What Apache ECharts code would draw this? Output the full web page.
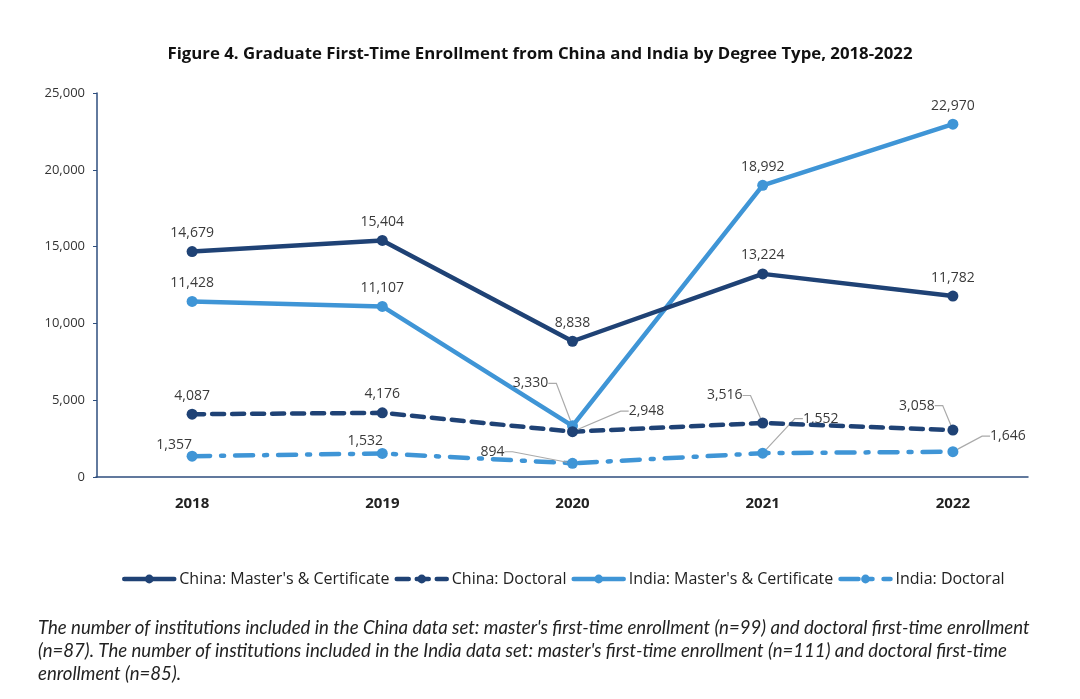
<!DOCTYPE html>
<html><head><meta charset="utf-8">
<script src="https://cdn.jsdelivr.net/npm/echarts@6/dist/echarts.min.js"></script>
<style>html,body{margin:0;padding:0;background:#fff}#c{width:1080px;height:699px}</style>
</head><body><div id="c"></div>
<script>
const years = ['2018','2019','2020','2021','2022'];
const chinaMasters = [14679, 15404, 8838, 13224, 11782];
const chinaDoctoral = [4087, 4176, 2948, 3516, 3058];
const indiaMasters = [11428, 11107, 3330, 18992, 22970];
const indiaDoctoral = [1357, 1532, 894, 1552, 1646];
const seriesNames = ["China: Master's & Certificate", "China: Doctoral", "India: Master's & Certificate", "India: Doctoral"];
const titleText = 'Figure 4. Graduate First-Time Enrollment from China and India by Degree Type, 2018-2022';
const noteLines = [
  "The number of institutions included in the China data set: master's first-time enrollment (n=99) and doctoral first-time enrollment",
  "(n=87). The number of institutions included in the India data set: master's first-time enrollment (n=111) and doctoral first-time",
  "enrollment (n=85)."
];

const navy = '#1F4275';
const blue = '#3F95D6';
// label nudges [seriesIndex][dataIndex] = [dx, dy, leader]
const nudges = {
  '2-2': [-42, -24, true],
  '1-2': [74, -2, true],
  '1-3': [-38, -9, true],
  '1-4': [-36, -6, true],
  '3-0': [-18, 7, false],
  '3-1': [-17, 6, false],
  '3-2': [-80, 7, true],
  '3-3': [58, -16, true],
  '3-4': [55, 3, true]
};
const fmt = v => v.toLocaleString('en-US');
function mk(name, vals, color, type, si) {
  return {
    name, type: 'line', data: vals.map((v, i) => {
      const n = nudges[si + '-' + i];
      return { value: v, labelLine: { show: !!(n && n[2]) } };
    }),
    symbol: 'circle', symbolSize: 11,
    itemStyle: { color },
    lineStyle: { color, width: 4.5, type, cap: 'round' },
    label: { show: true, position: 'top', distance: 6, formatter: p => fmt(p.value),
      color: '#3a3a3a', fontSize: 14, fontFamily: 'Open Sans' },
    labelLine: { show: true, lineStyle: { color: '#aaaaaa', width: 1.2 }, length2: 8 },
    labelLayout: p => {
      const n = nudges[si + '-' + p.dataIndex];
      return n ? { dx: n[0], dy: n[1] } : {};
    },
    z: 10 - si
  };
}
const chart = echarts.init(document.getElementById('c'));
chart.setOption({
  animation: false,
  title: { text: titleText, left: 'center', top: 41,
    textStyle: { fontFamily: 'Open Sans', fontWeight: 'bold', fontSize: 16.8, color: '#111' } },
  grid: [
    { left: 97, right: 32, top: 93, bottom: 222 },
    { left: 96, right: 52, top: 93, bottom: 222 }
  ],
  xAxis: [
    { type: 'category', data: years, gridIndex: 0,
      axisLine: { show: false }, axisTick: { show: false },
      axisLabel: { margin: 19, fontFamily: 'Open Sans', fontWeight: 'bold', fontSize: 15, color: '#222' } },
    { type: 'value', gridIndex: 1, min: 0, max: 1, show: true,
      axisLine: { show: true, onZero: false, lineStyle: { color: '#2E4E7E', width: 1.5 } },
      axisTick: { show: false }, axisLabel: { show: false }, splitLine: { show: false } }
  ],
  yAxis: [
    { type: 'value', gridIndex: 0, min: 0, max: 25000, interval: 5000,
      axisLine: { show: true, lineStyle: { color: '#2E4E7E', width: 1.5 } },
      axisTick: { show: true, length: 4, lineStyle: { color: '#2E4E7E' } },
      splitLine: { show: false },
      axisLabel: { formatter: v => fmt(v), margin: 12, fontFamily: 'Open Sans', fontSize: 13, color: '#333' } },
    { type: 'value', gridIndex: 1, min: 0, max: 1, show: false }
  ],
  legend: { bottom: 107, left: 117, itemWidth: 50, itemHeight: 11, itemGap: 5,
    lineStyle: { width: 4.5 },
    textStyle: { fontFamily: 'Open Sans', fontSize: 16, color: '#222' }, data: seriesNames },
  series: [
    mk(seriesNames[0], chinaMasters, navy, 'solid', 0),
    mk(seriesNames[1], chinaDoctoral, navy, [12, 8], 1),
    mk(seriesNames[2], indiaMasters, blue, 'solid', 2),
    mk(seriesNames[3], indiaDoctoral, blue, [18, 11, 3, 11], 3)
  ],
  graphic: [{ type: 'text', left: 38, top: 616,
    style: { text: noteLines.join('\n'), fontFamily: 'Lato', fontStyle: 'italic', fontSize: 18.6, lineHeight: 23, fill: '#222' } }]
});
</script></body></html>
